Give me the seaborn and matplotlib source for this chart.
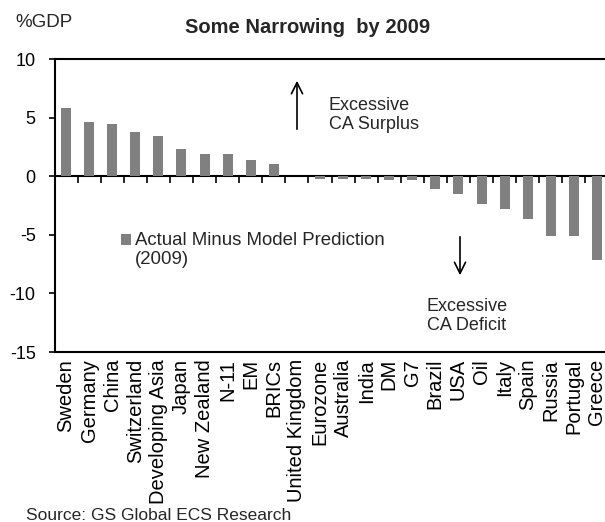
import matplotlib
matplotlib.use("Agg")
import matplotlib.pyplot as plt
import seaborn as sns
import pandas as pd

categories = ["Sweden", "Germany", "China", "Switzerland", "Developing Asia", "Japan",
              "New Zealand", "N-11", "EM", "BRICs", "United Kingdom", "Eurozone",
              "Australia", "India", "DM", "G7", "Brazil", "USA", "Oil", "Italy",
              "Spain", "Russia", "Portugal", "Greece"]
values = [5.86, 4.63, 4.49, 3.75, 3.47, 2.33, 1.88, 1.88, 1.34, 1.05, 0.05, -0.2,
          -0.2, -0.2, -0.34, -0.34, -1.08, -1.48, -2.33, -2.79, -3.67, -5.06, -5.06, -7.17]
series_label = "Actual Minus Model Prediction\n(2009)"
y_ticks = [10, 5, 0, -5, -10, -15]

sns.set_theme(style="white")
plt.rcParams['font.family'] = ['Liberation Sans', 'DejaVu Sans']

W, H = 605, 522
fig = plt.figure(figsize=(W / 100, H / 100), dpi=100)
ax = fig.add_axes([54.5 / W, 1 - 352 / H, 554 / W, 293 / H])

df = pd.DataFrame({"cat": categories, "val": values})
sns.barplot(data=df, x="cat", y="val", color="#808080", saturation=1, width=0.43,
            ax=ax, label=series_label, linewidth=0)

ax.set_xlim(-0.5, len(categories) - 0.5)
ax.set_ylim(-15, 10)
ax.set_yticks(y_ticks)
ax.set_yticklabels([str(t) for t in y_ticks], fontsize=13)
ax.set_xlabel("")
ax.set_ylabel("")
ax.tick_params(axis="x", length=0, labelsize=14.5, labelrotation=90, pad=5, colors="black")
ax.tick_params(axis="y", length=4.5, width=1.2, direction="out", left=True, pad=9, colors="black")
for side in ["top", "bottom", "left"]:
    ax.spines[side].set_visible(True)
    ax.spines[side].set_color("black")
    ax.spines[side].set_linewidth(1.5)
ax.spines["right"].set_visible(False)

# category axis crossing at zero, with ticks between categories
sec = ax.secondary_xaxis(15 / 25)
sec.set_xticks([i + 0.5 for i in range(len(categories))])
sec.set_xticklabels([])
sec.tick_params(axis="x", direction="in", length=5, width=1.2, colors="black")
for sp in sec.spines.values():
    sp.set_linewidth(1.5)
    sp.set_color("black")

fig.text(15 / W, 1 - 27 / H, "%GDP", fontsize=13.5, va="baseline", ha="left")
fig.text(308 / W, 1 - 33 / H, "Some Narrowing  by 2009", fontsize=14.5, fontweight="bold",
         va="baseline", ha="center")

leg = ax.legend(loc="upper left", bbox_to_anchor=(121 / W, 1 - 232 / H),
                bbox_transform=fig.transFigure, frameon=False, fontsize=13.4,
                handlelength=0.55, handleheight=0.55, handletextpad=0.2,
                borderpad=0, borderaxespad=0, labelspacing=0)
for t in leg.get_texts():
    t.set_linespacing(1.15)
hdl = leg.legend_handles[0]
hdl.set_y(hdl.get_y() + 7.5)

ax.annotate("", xy=(297 / W, 1 - 78 / H), xytext=(297 / W, 1 - 132 / H),
            xycoords="figure fraction", textcoords="figure fraction",
            arrowprops=dict(arrowstyle="->", color="black", lw=1.2, mutation_scale=20))
fig.text(329 / W, 1 - 115 / H, "Excessive\nCA Surplus", fontsize=13, va="center", ha="left",
         linespacing=1.15)
ax.annotate("", xy=(460 / W, 1 - 278 / H), xytext=(460 / W, 1 - 234 / H),
            xycoords="figure fraction", textcoords="figure fraction",
            arrowprops=dict(arrowstyle="->", color="black", lw=1.2, mutation_scale=20))
fig.text(427 / W, 1 - 316 / H, "Excessive\nCA Deficit", fontsize=13, va="center", ha="left",
         linespacing=1.15)

fig.text(26 / W, 1 - 520 / H, "Source: GS Global ECS Research", fontsize=12.5,
         va="baseline", ha="left")

fig.savefig("out.png", dpi=100)
